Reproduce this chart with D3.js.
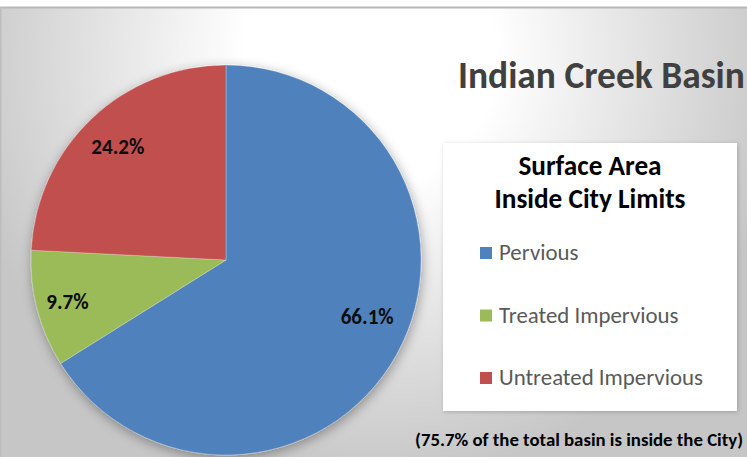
<!DOCTYPE html>
<html>
<head>
<meta charset="utf-8">
<script src="https://cdn.jsdelivr.net/npm/d3@7"></script>
<style>
  html, body { margin: 0; padding: 0; background: #ffffff; }
  svg { display: block; }
</style>
</head>
<body>
<svg id="chart" width="747" height="457"></svg>
<script>
// ---- Data ----
const categories = ["Pervious", "Treated Impervious", "Untreated Impervious"];
const shares = [66.1, 9.7, 24.2];
const sliceColors = ["#4F81BD", "#9BBB59", "#C0504D"];
const chartTitle = "Indian Creek Basin";
const legendTitle = ["Surface Area", "Inside City Limits"];
const footnote = "(75.7% of the total basin is inside the City)";

// ---- Layout ----
const W = 747, H = 457;
const frameTop = 7;
const pieCenter = { x: 226, y: 260 };
const pieRadius = 195;
// label placement inside each slice: radius fraction and position along the slice's sweep
const labelPlacement = [
  { r: 0.78, t: 0.47 },
  { r: 0.84, t: 0.5 },
  { r: 0.805, t: 0.5 }
];
const fontFamily = "Carlito, Calibri, Lato, 'Open Sans', sans-serif";

const svg = d3.select("#chart");
const defs = svg.append("defs");

// Soft radial background, bright near the top centre and grey towards the edges
const bg = defs.append("radialGradient")
  .attr("id", "bgGrad")
  .attr("gradientUnits", "userSpaceOnUse")
  .attr("cx", 370).attr("cy", 60).attr("r", 420);
bg.append("stop").attr("offset", 0).attr("stop-color", "#ffffff");
bg.append("stop").attr("offset", 0.3).attr("stop-color", "#ffffff");
bg.append("stop").attr("offset", 1).attr("stop-color", "#c6c6c6");

const pieShadow = defs.append("filter").attr("id", "pieShadow")
  .attr("x", "-20%").attr("y", "-20%").attr("width", "140%").attr("height", "140%");
pieShadow.append("feDropShadow")
  .attr("dx", 1).attr("dy", 3).attr("stdDeviation", 6)
  .attr("flood-color", "#000").attr("flood-opacity", 0.35);

const boxShadow = defs.append("filter").attr("id", "boxShadow")
  .attr("x", "-10%").attr("y", "-10%").attr("width", "120%").attr("height", "120%");
boxShadow.append("feDropShadow")
  .attr("dx", 1).attr("dy", 1).attr("stdDeviation", 2)
  .attr("flood-color", "#000").attr("flood-opacity", 0.2);

// Chart area with frame lines on top and left
svg.append("rect")
  .attr("x", 0).attr("y", frameTop)
  .attr("width", W).attr("height", H - frameTop)
  .attr("fill", "url(#bgGrad)");
svg.append("line")
  .attr("x1", 0).attr("x2", W).attr("y1", frameTop + 0.5).attr("y2", frameTop + 0.5)
  .attr("stroke", "#b8b8b8").attr("stroke-width", 2);
svg.append("line")
  .attr("x1", 0.75).attr("x2", 0.75).attr("y1", frameTop).attr("y2", H)
  .attr("stroke", "#bdbdbd").attr("stroke-width", 1.5);

// Shrinks/grows a text's font size so it spans the given width
function fitWidth(sel, target) {
  const w = sel.node().getComputedTextLength();
  const fs = parseFloat(sel.attr("font-size"));
  const size = fs * target / w;
  sel.attr("font-size", size);
  return size;
}

// ---- Pie ----
const slices = categories.map((c, i) => ({ name: c, value: shares[i], color: sliceColors[i] }));
const pie = d3.pie().sort(null).value(d => d.value).startAngle(0).endAngle(2 * Math.PI);
const arcs = pie(slices);
const arc = d3.arc().innerRadius(0).outerRadius(pieRadius);

const pieG = svg.append("g")
  .attr("transform", `translate(${pieCenter.x},${pieCenter.y})`);

pieG.append("g").attr("filter", "url(#pieShadow)")
  .selectAll("path")
  .data(arcs)
  .join("path")
  .attr("d", arc)
  .attr("fill", d => d.data.color)
  .attr("stroke", "rgba(255,255,255,0.35)")
  .attr("stroke-width", 0.75);

const labels = pieG.selectAll("text.pct")
  .data(arcs)
  .join("text")
  .attr("class", "pct")
  .attr("font-family", fontFamily)
  .attr("font-weight", "bold")
  .attr("font-size", 18)
  .attr("fill", "#0d0d0d")
  .attr("text-anchor", "middle")
  .attr("dy", "0.35em")
  .attr("x", (d, i) => {
    const p = labelPlacement[i];
    const a = d.startAngle + p.t * (d.endAngle - d.startAngle);
    return Math.sin(a) * p.r * pieRadius;
  })
  .attr("y", (d, i) => {
    const p = labelPlacement[i];
    const a = d.startAngle + p.t * (d.endAngle - d.startAngle);
    return -Math.cos(a) * p.r * pieRadius;
  })
  .text(d => d.data.value.toFixed(1) + "%");
const pctSize = fitWidth(labels.filter((d, i) => i === 2), 53);
labels.attr("font-size", pctSize);

// ---- Title ----
const title = svg.append("text")
  .attr("x", 458).attr("y", 88)
  .attr("font-family", fontFamily)
  .attr("font-weight", "bold")
  .attr("font-size", 34)
  .attr("fill", "#404040")
  .text(chartTitle);
fitWidth(title, 287);

// ---- Legend ----
const legendBox = { x: 443, y: 143, w: 294, h: 268 };
svg.append("rect")
  .attr("x", legendBox.x).attr("y", legendBox.y)
  .attr("width", legendBox.w).attr("height", legendBox.h)
  .attr("fill", "#ffffff")
  .attr("filter", "url(#boxShadow)");

const legendCx = 590;
const titleLines = svg.append("g").selectAll("text")
  .data(legendTitle)
  .join("text")
  .attr("x", legendCx)
  .attr("y", (d, i) => 175 + i * 33)
  .attr("text-anchor", "middle")
  .attr("font-family", fontFamily)
  .attr("font-weight", "bold")
  .attr("font-size", 22)
  .attr("fill", "#000000")
  .text(d => d);
const ltSize = fitWidth(titleLines.filter((d, i) => i === 1), 191);
titleLines.attr("font-size", ltSize);

const items = svg.append("g").selectAll("g")
  .data(slices)
  .join("g")
  .attr("transform", (d, i) => `translate(480,${260 + i * 62.5})`);
items.append("rect")
  .attr("x", 0).attr("y", -13)
  .attr("width", 12).attr("height", 12)
  .attr("fill", d => d.color);
const itemText = items.append("text")
  .attr("x", 19).attr("y", 0)
  .attr("font-family", fontFamily)
  .attr("font-size", 20)
  .attr("fill", "#595959")
  .text(d => d.name);
const itSize = fitWidth(itemText.filter((d, i) => i === 2), 204);
itemText.attr("font-size", itSize);

// ---- Footnote ----
const foot = svg.append("text")
  .attr("x", 743).attr("y", 446)
  .attr("text-anchor", "end")
  .attr("font-family", fontFamily)
  .attr("font-weight", "bold")
  .attr("font-size", 16)
  .attr("fill", "#000000")
  .text(footnote);
fitWidth(foot, 328);
</script>
</body>
</html>
